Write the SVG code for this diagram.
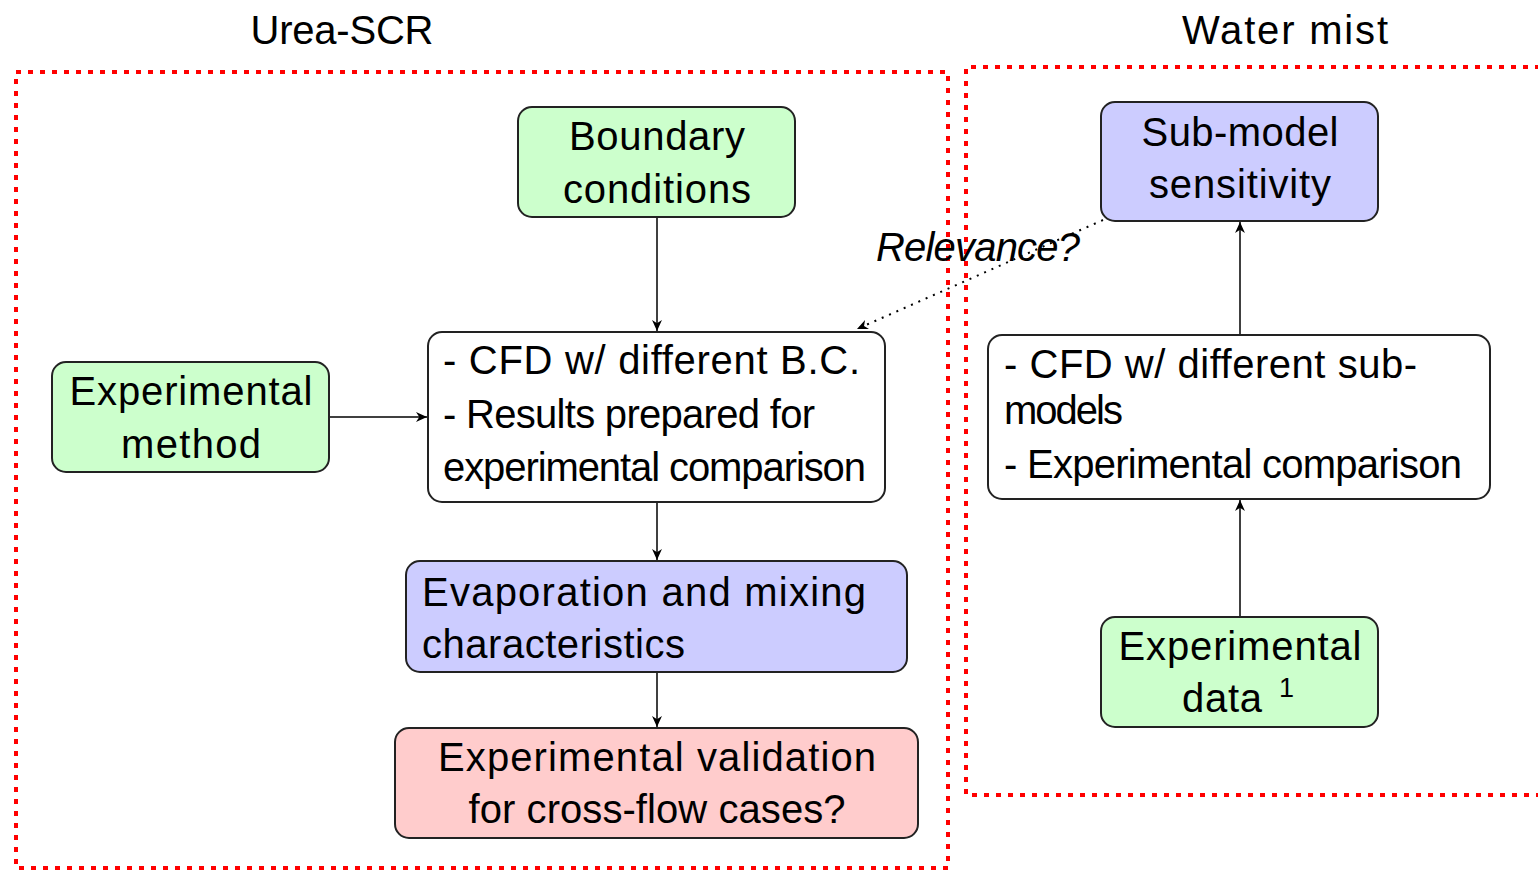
<svg xmlns="http://www.w3.org/2000/svg" width="1538" height="872" viewBox="0 0 1538 872">
<defs>
<marker id="arr" viewBox="0 0 10 10" refX="10" refY="5" markerWidth="11" markerHeight="11" markerUnits="userSpaceOnUse" orient="auto">
<path d="M0,0.5 L10,5 L0,9.5 L3,5 Z" fill="#000"/>
</marker>
</defs>
<style>
text{font-family:"Liberation Sans","DejaVu Sans",sans-serif;font-size:40px;fill:#000}
.c{text-anchor:middle}
.box{stroke:#222;stroke-width:2}
.g{fill:#ccffcc}.b{fill:#ccccff}.r{fill:#ffcccc}.w{fill:#fff}
.frame{fill:none;stroke:#ff0000;stroke-width:4;stroke-dasharray:5 7}
.edge{fill:none;stroke:#000;stroke-width:1.5;marker-end:url(#arr)}
</style>
<rect width="1538" height="872" fill="#fff"/>
<g id="frames">
<rect class="frame" x="16" y="72" width="932" height="796"/>
<path class="frame" d="M1540,67 L966,67 L966,795 L1540,795"/>
<text class="c" x="342" y="44" textLength="183">Urea-SCR</text>
<text class="c" x="1285" y="44" textLength="206">Water mist</text>
</g>
<g id="connectors">
<line class="edge" x1="657" y1="218" x2="657" y2="331"/>
<line class="edge" x1="330" y1="417" x2="427" y2="417"/>
<line class="edge" x1="657" y1="503" x2="657" y2="560"/>
<line class="edge" x1="657" y1="673" x2="657" y2="727"/>
<line class="edge" x1="1240" y1="616" x2="1240" y2="500"/>
<line class="edge" x1="1240" y1="334" x2="1240" y2="222"/>
<line class="edge" x1="1103" y1="220" x2="857" y2="329" style="stroke-dasharray:2 6;stroke-width:2"/>
<text x="876" y="261" textLength="204" style="font-style:italic">Relevance?</text>
</g>
<g id="boundary">
<rect class="box g" x="518" y="107" width="277" height="110" rx="14"/>
<text class="c" x="657" y="150" textLength="176">Boundary</text>
<text class="c" x="657" y="203" textLength="188">conditions</text>
</g>
<g id="expmethod">
<rect class="box g" x="52" y="362" width="277" height="110" rx="14"/>
<text class="c" x="191" y="405" textLength="243">Experimental</text>
<text class="c" x="191" y="458" textLength="140">method</text>
</g>
<g id="cfd1">
<rect class="box w" x="428" y="332" width="457" height="170" rx="14"/>
<text x="443" y="374" textLength="417">- CFD w/ different B.C.</text>
<text x="443" y="428" textLength="372">- Results prepared for</text>
<text x="443" y="481" textLength="423">experimental comparison</text>
</g>
<g id="evap">
<rect class="box b" x="406" y="561" width="501" height="111" rx="14"/>
<text x="422" y="606" textLength="444">Evaporation and mixing</text>
<text x="422" y="658" textLength="263">characteristics</text>
</g>
<g id="validation">
<rect class="box r" x="395" y="728" width="523" height="110" rx="14"/>
<text class="c" x="657" y="771" textLength="438">Experimental validation</text>
<text class="c" x="657" y="823" textLength="377">for cross-flow cases?</text>
</g>
<g id="submodel">
<rect class="box b" x="1101" y="102" width="277" height="119" rx="14"/>
<text class="c" x="1240" y="146" textLength="197">Sub-model</text>
<text class="c" x="1240" y="198" textLength="182">sensitivity</text>
</g>
<g id="cfd2">
<rect class="box w" x="988" y="335" width="502" height="164" rx="14"/>
<text x="1004" y="378" textLength="413">- CFD w/ different sub-</text>
<text x="1004" y="424" textLength="119">models</text>
<text x="1004" y="478" textLength="458">- Experimental comparison</text>
</g>
<g id="expdata">
<rect class="box g" x="1101" y="617" width="277" height="110" rx="14"/>
<text class="c" x="1240" y="660" textLength="243">Experimental</text>
<text x="1182" y="712" textLength="80">data</text>
<text x="1279" y="697" style="font-size:27px">1</text>
</g>
</svg>
